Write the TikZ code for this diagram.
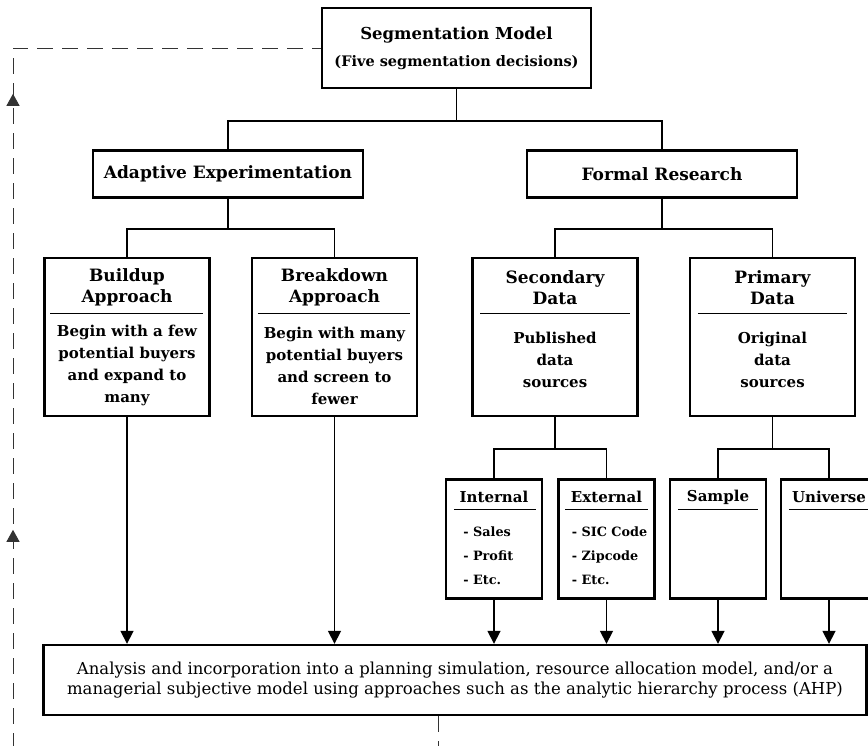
\documentclass[tikz,border=0pt]{standalone}
\usepackage{fontspec}
\setmainfont{DejaVu Serif}
\usetikzlibrary{arrows.meta,calc,decorations.markings}

\begin{document}
\begin{tikzpicture}[x=1pt, y=-1pt,
    box/.style={draw, line width=2.4pt, inner sep=0pt},
    bigbox/.style={box, minimum width=165pt, minimum height=158pt},
    smallbox/.style={box, minimum width=96pt, minimum height=119pt},
    conn/.style={line width=1.7pt},
    arr/.style={conn, -{Triangle[length=13pt,width=13pt]}},
    rule/.style={line width=1.3pt},
    ttl/.style={font=\bfseries\fontsize{17}{21}\selectfont, align=center},
    body/.style={font=\bfseries\fontsize{15}{22}\selectfont, align=center},
    subttl/.style={font=\bfseries\fontsize{15}{18}\selectfont},
    items/.style={font=\bfseries\fontsize{12.8}{24}\selectfont, align=left, anchor=west},
    feedback/.style={line width=0.9pt, black!80, dash pattern=on 16pt off 9pt,
        postaction={decorate, decoration={markings,
            mark=at position 719pt with {\arrow{Triangle[length=12pt,width=13pt]}},
            mark=at position 1155pt with {\arrow{Triangle[length=12pt,width=13pt]}}}}}
]
    \clip (0,0) rectangle (868,745);

    % Top level
    \node[box, minimum width=269pt, minimum height=80pt, align=center] (seg) at (456.5,48)
        {\bfseries\fontsize{16.5}{20}\selectfont Segmentation Model\\[11pt]
         \bfseries\fontsize{14.5}{17}\selectfont (Five segmentation decisions)};

    % Second level
    \node[box, minimum width=270pt, minimum height=47pt, ttl] (ae) at (228,174) {Adaptive Experimentation};
    \node[box, minimum width=270pt, minimum height=47pt, ttl] (fr) at (662,174) {Formal Research};

    \draw[conn] (seg.south) -- ++(0,32) -| (ae.north);
    \draw[conn] (seg.south) -- ++(0,32) -| (fr.north);

    % Third level
    \node[bigbox] (bu) at (127,337) {};
    \node[ttl] (bu-t) at ($(bu.north)+(0,31)$) {Buildup\\Approach};
    \draw[rule] ($(bu.north west)+(7,57)$) -- ($(bu.north east)+(-8,57)$);
    \node[body] (bu-b) at ($(bu.north)+(0,109)$) {Begin with a few\\potential buyers\\and expand to\\many};

    \node[bigbox] (bd) at (334.5,337) {};
    \node[ttl] (bd-t) at ($(bd.north)+(0,31)$) {Breakdown\\Approach};
    \draw[rule] ($(bd.north west)+(7,57)$) -- ($(bd.north east)+(-8,57)$);
    \node[body] (bd-b) at ($(bd.north)+(0,109)$) {Begin with many\\potential buyers\\and screen to\\fewer};

    \node[bigbox] (sd) at (555,337) {};
    \node[ttl] (sd-t) at ($(sd.north)+(0,31)$) {Secondary\\Data};
    \draw[rule] ($(sd.north west)+(9,57)$) -- ($(sd.north east)+(-9,57)$);
    \node[body] (sd-b) at ($(sd.north)+(0,103)$) {Published\\data\\sources};

    \node[bigbox] (pd) at (772.5,337) {};
    \node[ttl] (pd-t) at ($(pd.north)+(0,31)$) {Primary\\Data};
    \draw[rule] ($(pd.north west)+(9,57)$) -- ($(pd.north east)+(-9,57)$);
    \node[body] (pd-b) at ($(pd.north)+(0,103)$) {Original\\data\\sources};

    \draw[conn] (ae.south) -- ++(0,30) -| (bu.north);
    \draw[conn] (ae.south) -- ++(0,30) -| (bd.north);
    \draw[conn] (fr.south) -- ++(0,30) -| (sd.north);
    \draw[conn] (fr.south) -- ++(0,30) -| (pd.north);

    % Data sources
    \node[smallbox] (in) at (494,539) {};
    \node[subttl] (in-t) at ($(in.north)+(0,19)$) {Internal};
    \draw[rule] ($(in.north west)+(9,31)$) -- ($(in.north east)+(-7,31)$);
    \node[items] (in-b) at ($(in.north west)+(15,77)$) {- Sales\\- Profit\\- Etc.};

    \node[smallbox] (ex) at (606.5,539) {};
    \node[subttl] (ex-t) at ($(ex.north)+(0,19)$) {External};
    \draw[rule] ($(ex.north west)+(8,31)$) -- ($(ex.north east)+(-8,31)$);
    \node[items] (ex-b) at ($(ex.north west)+(11,77)$) {- SIC Code\\- Zipcode\\- Etc.};

    \node[smallbox] (sa) at (718,539) {};
    \node[subttl] (sa-t) at ($(sa.north)+(0,19)$) {Sample};
    \draw[rule] ($(sa.north west)+(9,31)$) -- ($(sa.north east)+(-9,31)$);

    \node[smallbox] (un) at (829,539) {};
    \node[subttl] (un-t) at ($(un.north)+(0,19)$) {Universe};
    \draw[rule] ($(un.north west)+(9,31)$) -- ($(un.north east)+(-9,31)$);

    \draw[conn] (sd.south) -- ++(0,32) -| (in.north);
    \draw[conn] (sd.south) -- ++(0,32) -| (ex.north);
    \draw[conn] (pd.south) -- ++(0,32) -| (sa.north);
    \draw[conn] (pd.south) -- ++(0,32) -| (un.north);

    % Bottom box
    \node[box, minimum width=823pt, minimum height=70pt, align=center,
          font=\fontsize{16.5}{19.5}\selectfont] (ana) at (455,680)
        {Analysis and incorporation into a planning simulation, resource allocation model, and/or a\\
         managerial subjective model using approaches such as the analytic hierarchy process (AHP)};

    \foreach \n in {bu,bd,in,ex,sa,un}
        \draw[arr] (\n.south) -- (\n.south |- ana.north);

    % Feedback loop
    \coordinate (fbBot) at (438,770);
    \coordinate (fbCorner) at (13,770);
    \draw[feedback] (ana.south -| fbBot) -- (fbBot) -- (fbCorner) -- (fbCorner |- seg.west) -- (seg.west);
\end{tikzpicture}
\end{document}
